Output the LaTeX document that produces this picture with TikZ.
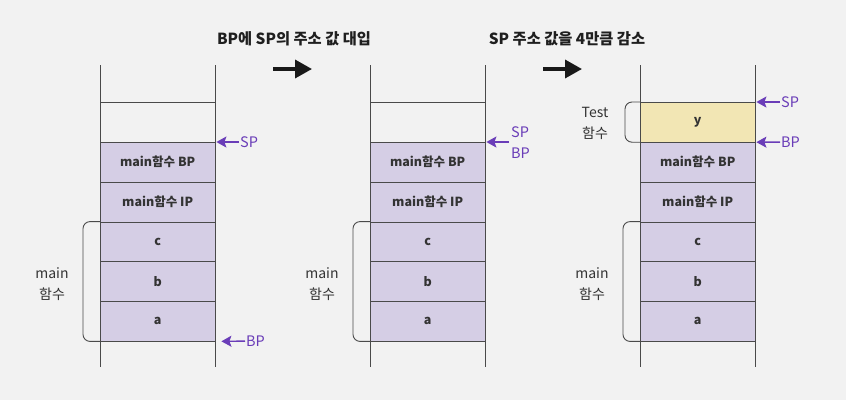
\documentclass[tikz,border=0pt]{standalone}
\usepackage{fontspec}
\setmainfont{Noto Sans CJK KR}
\usetikzlibrary{arrows.meta,positioning}
\definecolor{bgcol}{HTML}{F2F2F2}
\definecolor{cellcol}{HTML}{D5CEE5}
\definecolor{testcol}{HTML}{F2E6B4}
\definecolor{ptrcol}{HTML}{6A3DB8}
\definecolor{inkcol}{HTML}{333333}
\definecolor{linecol}{HTML}{4A4A4A}
\tikzset{
    cell/.style={draw=linecol, fill=cellcol, anchor=north west, inner sep=0pt,
        minimum width=115pt, minimum height=39.8pt, text=inkcol,
        font=\bfseries\fontsize{12.5}{14}\selectfont},
    rail/.style={draw=linecol, line width=0.9pt},
    bracket/.style={draw=linecol, line width=0.9pt, rounded corners=7pt},
    side/.style={text=inkcol, align=center, font=\fontsize{14}{21}\selectfont},
    ptrlabel/.style={text=ptrcol, anchor=west, inner sep=1pt, font=\fontsize{14.5}{16}\selectfont},
    ptrarrow/.style={draw=ptrcol, line width=1.4pt, -{Stealth[length=10pt,width=11pt,inset=2pt]}},
    title/.style={text=inkcol!60!black, font=\bfseries\fontsize{15.3}{17}\selectfont},
    steparrow/.style={draw=inkcol!50!black, line width=3.5pt, -{Triangle[length=17pt,width=18pt]}}
}
\begin{document}
\begin{tikzpicture}[x=1pt,y=-1pt]
    \fill[bgcol] (0,0) rectangle (846,400);
    \foreach \sx/\sn in {100/l,370/m,640/r}{%
      \foreach \lab [count=\i from 0] in {main함수 BP,main함수 IP,c,b,a}{%
      \node[cell] (\sn\i) at (\sx,{142+39.8*\i}) {\lab};
      }
      \draw[rail] (\sx,65) -- (\sx,367);
      \draw[rail] (\sx+115,65) -- (\sx+115,367);
      \draw[rail] (\sx,102) -- (\sx+115,102);
      \draw[bracket] (\sn2.north west) -- ++(-17,0) |- (\sn4.south west);
    }
    \node[cell,fill=testcol] (ry) at (640,102) {y};

    \node[side] (lmain) at (52,284) {main\\함수};
    \node[side] (mmain) at (322,284) {main\\함수};
    \node[side] (rmain) at (592,284) {main\\함수};
    \node[side] (rtest) at (595,123) {Test\\함수};
    \draw[bracket] (ry.north west) -- ++(-15,0) |- (ry.south west);

    \node[ptrlabel] (lsp) at (239,142) {SP};
    \node[ptrlabel] (lbp) at (245,341) {BP};
    \draw[ptrarrow,shorten >=1pt] (lsp) -- (l0.north east);
    \draw[ptrarrow,shorten >=6pt] (lbp) -- (l4.south east);

    \node[ptrlabel] (msp) at (510,132) {SP};
    \node[ptrlabel] (mbp) at (510,153) {BP};
    \coordinate (mtail) at (509,142);
    \draw[ptrarrow,shorten >=1pt] (mtail) -- (m0.north east);

    \node[ptrlabel] (rsp) at (780,102) {SP};
    \node[ptrlabel] (rbp) at (780,142) {BP};
    \draw[ptrarrow,shorten >=1pt] (rsp) -- (ry.north east);
    \draw[ptrarrow,shorten >=1pt] (rbp) -- (ry.south east);

    \node[title] (t1) at (294,39) {BP에 SP의 주소 값 대입};
    \node[title] (t2) at (567,39) {SP 주소 값을 4만큼 감소};
    \coordinate (a1s) at (273,69);
    \coordinate (a1e) at (312,69);
    \coordinate (a2s) at (543,69);
    \coordinate (a2e) at (582,69);
    \draw[steparrow] (a1s) -- (a1e);
    \draw[steparrow] (a2s) -- (a2e);
\end{tikzpicture}
\end{document}
